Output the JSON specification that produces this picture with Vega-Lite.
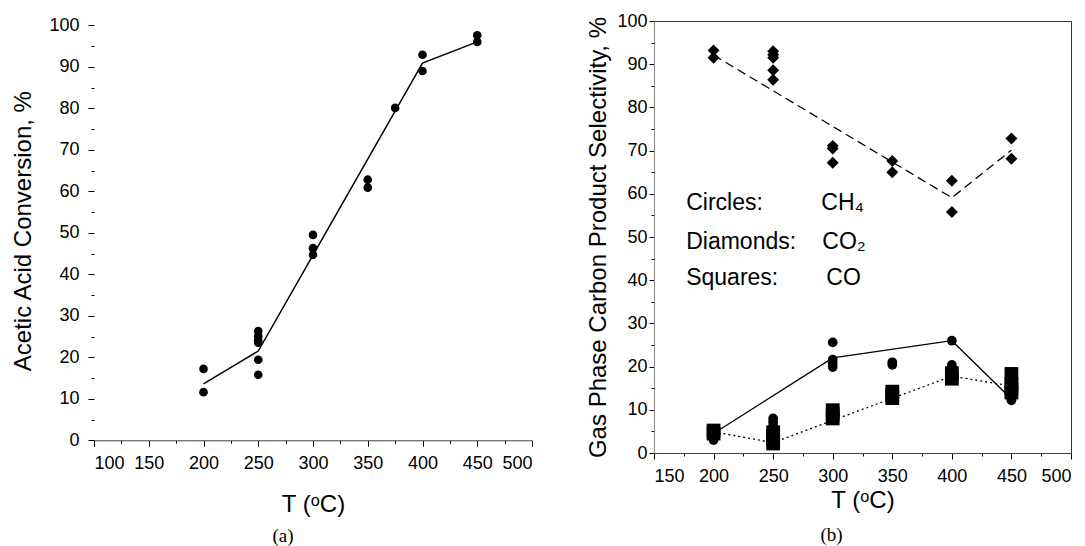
{
  "$schema": "https://vega.github.io/schema/vega-lite/v6.json",
  "padding": {"left": 11, "top": 11, "right": 5, "bottom": 5},
  "bounds": "flush",
  "spacing": 122,
  "config": {
    "font": "Liberation Sans",
    "axis": {"labelFontSize": 18, "titleFontSize": 24, "titleFontWeight": "normal", "labelColor": "black", "titleColor": "black", "grid": false, "tickColor": "black", "labelFont": "Liberation Sans", "titleFont": "Liberation Sans"},
    "view": {"stroke": "#333"}
  },
  "datasets": {
    "conv": [
      {"T": 200, "v": 17.2}, {"T": 200, "v": 11.6},
      {"T": 250, "v": 26.3}, {"T": 250, "v": 25.1}, {"T": 250, "v": 24.1}, {"T": 250, "v": 23.5}, {"T": 250, "v": 19.4}, {"T": 250, "v": 15.8},
      {"T": 300, "v": 49.5}, {"T": 300, "v": 46.3}, {"T": 300, "v": 44.7},
      {"T": 350, "v": 62.8}, {"T": 350, "v": 60.9},
      {"T": 375, "v": 80.1},
      {"T": 400, "v": 92.9}, {"T": 400, "v": 89.0},
      {"T": 450, "v": 97.6}, {"T": 450, "v": 96.0}
    ],
    "convLine": [
      {"T": 200, "v": 13.6}, {"T": 250, "v": 21.5}, {"T": 400, "v": 90.9}, {"T": 450, "v": 96.0}
    ],
    "sel": [
      {"s": "CH4", "T": 200, "v": 3.0}, {"s": "CH4", "T": 200, "v": 3.7}, {"s": "CH4", "T": 200, "v": 4.3},
      {"s": "CH4", "T": 250, "v": 8.0}, {"s": "CH4", "T": 250, "v": 7.2}, {"s": "CH4", "T": 250, "v": 6.3}, {"s": "CH4", "T": 250, "v": 5.5}, {"s": "CH4", "T": 250, "v": 4.6},
      {"s": "CH4", "T": 300, "v": 25.6}, {"s": "CH4", "T": 300, "v": 21.6}, {"s": "CH4", "T": 300, "v": 20.8}, {"s": "CH4", "T": 300, "v": 19.9},
      {"s": "CH4", "T": 350, "v": 21.0}, {"s": "CH4", "T": 350, "v": 20.4},
      {"s": "CH4", "T": 400, "v": 26.0}, {"s": "CH4", "T": 400, "v": 20.4}, {"s": "CH4", "T": 400, "v": 19.6},
      {"s": "CH4", "T": 450, "v": 12.2}, {"s": "CH4", "T": 450, "v": 13.2},
      {"s": "CO2", "T": 200, "v": 93.2}, {"s": "CO2", "T": 200, "v": 91.5},
      {"s": "CO2", "T": 250, "v": 93.0}, {"s": "CO2", "T": 250, "v": 92.2}, {"s": "CO2", "T": 250, "v": 91.5}, {"s": "CO2", "T": 250, "v": 88.6}, {"s": "CO2", "T": 250, "v": 86.4},
      {"s": "CO2", "T": 300, "v": 71.1}, {"s": "CO2", "T": 300, "v": 70.5}, {"s": "CO2", "T": 300, "v": 67.2},
      {"s": "CO2", "T": 350, "v": 67.6}, {"s": "CO2", "T": 350, "v": 65.0},
      {"s": "CO2", "T": 400, "v": 63.0}, {"s": "CO2", "T": 400, "v": 55.8},
      {"s": "CO2", "T": 450, "v": 72.8}, {"s": "CO2", "T": 450, "v": 68.1},
      {"s": "CO", "T": 200, "v": 5.2}, {"s": "CO", "T": 200, "v": 4.5},
      {"s": "CO", "T": 250, "v": 4.8}, {"s": "CO", "T": 250, "v": 3.8}, {"s": "CO", "T": 250, "v": 3.0}, {"s": "CO", "T": 250, "v": 2.2},
      {"s": "CO", "T": 300, "v": 9.9}, {"s": "CO", "T": 300, "v": 9.0}, {"s": "CO", "T": 300, "v": 8.0},
      {"s": "CO", "T": 350, "v": 14.2}, {"s": "CO", "T": 350, "v": 13.4}, {"s": "CO", "T": 350, "v": 12.7},
      {"s": "CO", "T": 400, "v": 18.5}, {"s": "CO", "T": 400, "v": 17.2},
      {"s": "CO", "T": 450, "v": 18.3}, {"s": "CO", "T": 450, "v": 16.0}, {"s": "CO", "T": 450, "v": 15.0}, {"s": "CO", "T": 450, "v": 14.0}
    ],
    "ch4Line": [
      {"T": 200, "v": 4.5}, {"T": 300, "v": 22.0}, {"T": 400, "v": 26.0}, {"T": 450, "v": 12.5}
    ],
    "co2Line": [
      {"T": 200, "v": 92.1}, {"T": 400, "v": 59.1}, {"T": 450, "v": 70.1}
    ],
    "coLine": [
      {"T": 200, "v": 4.9}, {"T": 250, "v": 2.4}, {"T": 400, "v": 17.8}, {"T": 450, "v": 15.5}
    ],
    "notes": [
      {"T": 177, "v": 57.8, "t": "Circles:"},
      {"T": 290.4, "v": 57.8, "t": "CH₄"},
      {"T": 177, "v": 48.8, "t": "Diamonds:"},
      {"T": 291.3, "v": 48.8, "t": "CO₂"},
      {"T": 177, "v": 40.4, "t": "Squares:"},
      {"T": 294.6, "v": 40.4, "t": "CO"}
    ]
  },
  "hconcat": [
    {
      "width": 438,
      "height": 419.3,
      "view": {"stroke": null},
      "title": {"text": "(a)", "orient": "bottom", "font": "Liberation Serif", "fontSize": 19, "fontWeight": "normal", "color": "black", "dx": -30, "offset": 11},
      "encoding": {
        "x": {"field": "T", "type": "quantitative", "scale": {"domain": [100, 500], "nice": false},
          "axis": {"title": "T (ᵒC)", "values": [100,125,150,175,200,225,250,275,300,325,350,375,400,425,450,475,500],
            "labelExpr": "datum.value % 50 === 0 ? datum.label : ''",
            "tickSize": {"condition": {"test": "datum.value % 50 === 0", "value": 6}, "value": 3},
            "labelPadding": 8, "titlePadding": 20, "domainColor": "#444"}},
        "y": {"field": "v", "type": "quantitative", "scale": {"domain": [0, 101.04], "nice": false},
          "axis": {"title": "Acetic Acid Conversion, %", "values": [0,5,10,15,20,25,30,35,40,45,50,55,60,65,70,75,80,85,90,95,100],
            "labelExpr": "datum.value % 10 === 0 ? datum.label : ''",
            "tickSize": {"condition": {"test": "datum.value % 10 === 0", "value": 6}, "value": 3},
            "labelPadding": 9, "titlePadding": 13, "domain": false}}
      },
      "layer": [
        {"mark": {"type": "rule", "color": "#333", "strokeWidth": 1}, "encoding": {"x": {"datum": 100}, "x2": {"datum": 500}, "y": {"datum": 100}}},
        {"mark": {"type": "rule", "color": "#555", "strokeWidth": 1}, "encoding": {"x": {"datum": 500}, "y": {"datum": 0}, "y2": {"datum": 100}}},
        {"mark": {"type": "rule", "color": "#888", "strokeWidth": 1}, "encoding": {"x": {"datum": 100}, "y": {"datum": 0}, "y2": {"datum": 100}}},
        {"data": {"name": "convLine"}, "mark": {"type": "line", "color": "black", "strokeWidth": 1.5}},
        {"data": {"name": "conv"}, "mark": {"type": "circle", "color": "black", "opacity": 1, "size": 75}}
      ]
    },
    {
      "width": 417,
      "height": 432,
      "title": {"text": "(b)", "orient": "bottom", "font": "Liberation Serif", "fontSize": 19, "fontWeight": "normal", "color": "black", "dx": -31, "offset": 14},
      "encoding": {
        "x": {"field": "T", "type": "quantitative", "scale": {"domain": [150, 500], "nice": false},
          "axis": {"title": "T (ᵒC)", "values": [150,175,200,225,250,275,300,325,350,375,400,425,450,475,500],
            "labelExpr": "datum.value % 50 === 0 ? datum.label : ''",
            "tickSize": {"condition": {"test": "datum.value % 50 === 0", "value": 6}, "value": 3},
            "labelPadding": 8, "titlePadding": 3, "domainColor": "#444"}},
        "y": {"field": "v", "type": "quantitative", "scale": {"domain": [0, 100], "nice": false},
          "axis": {"title": "Gas Phase Carbon Product Selectivity, %", "values": [0,5,10,15,20,25,30,35,40,45,50,55,60,65,70,75,80,85,90,95,100],
            "labelExpr": "datum.value % 10 === 0 ? datum.label : ''",
            "tickSize": {"condition": {"test": "datum.value % 10 === 0", "value": 5}, "value": 3},
            "labelPadding": 2, "titlePadding": 6, "domainColor": "#888"}}
      },
      "layer": [
        {"data": {"name": "co2Line"}, "mark": {"type": "line", "color": "black", "strokeWidth": 1.3, "strokeDash": [9, 5]}},
        {"data": {"name": "ch4Line"}, "mark": {"type": "line", "color": "black", "strokeWidth": 1.3}},
        {"data": {"name": "coLine"}, "mark": {"type": "line", "color": "black", "strokeWidth": 1.3, "strokeDash": [2, 3]}},
        {"data": {"name": "sel"}, "mark": {"type": "point", "filled": true, "color": "black", "opacity": 1},
          "encoding": {
            "shape": {"field": "s", "type": "nominal", "scale": {"domain": ["CH4", "CO2", "CO"], "range": ["circle", "diamond", "square"]}, "legend": null},
            "size": {"field": "s", "type": "nominal", "scale": {"domain": ["CH4", "CO2", "CO"], "range": [95, 190, 72]}, "legend": null}
          }},
        {"data": {"name": "notes"}, "mark": {"type": "text", "align": "left", "baseline": "middle", "fontSize": 23, "color": "black", "font": "Liberation Sans"},
          "encoding": {"text": {"field": "t", "type": "nominal"}}}
      ]
    }
  ]
}
